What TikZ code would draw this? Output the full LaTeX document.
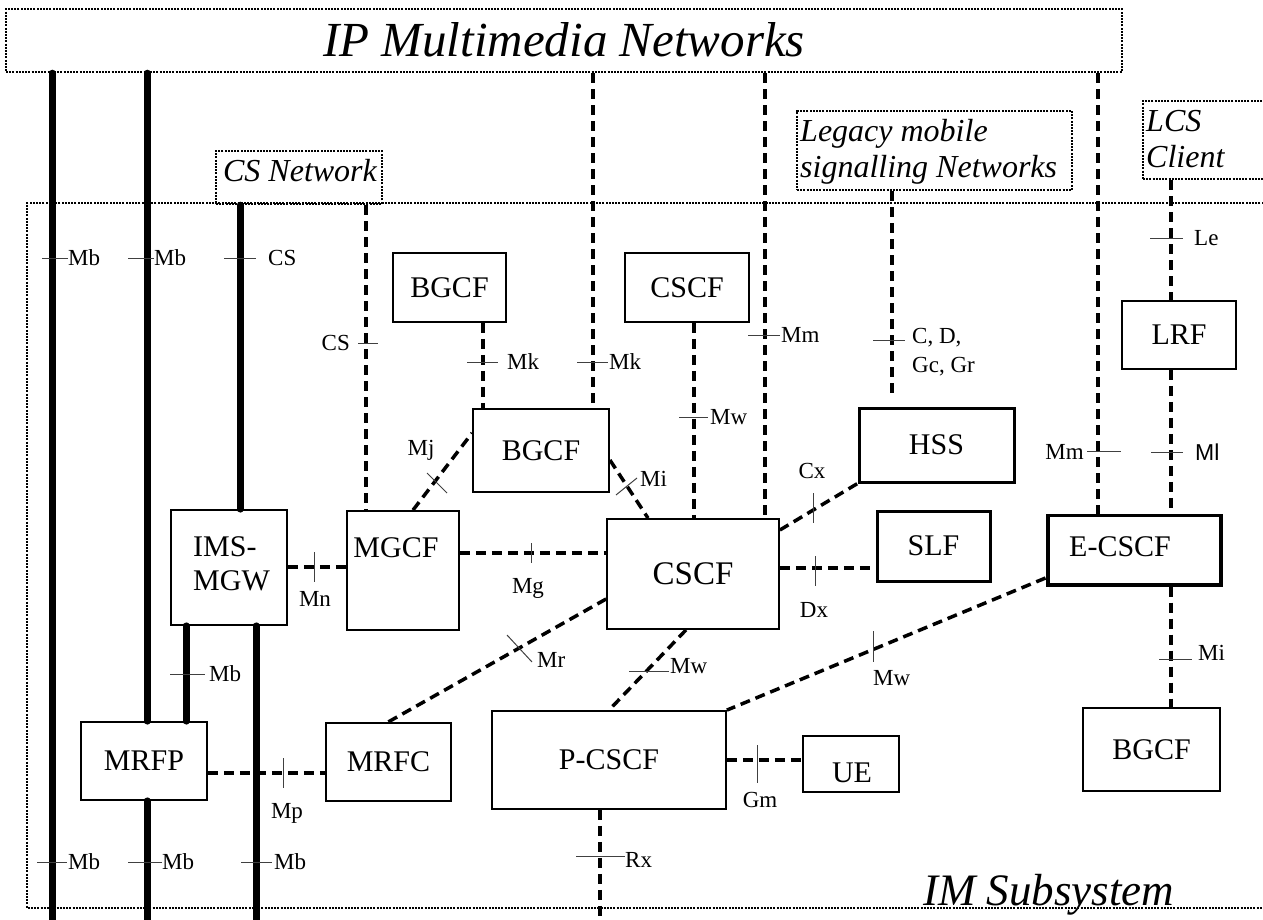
\documentclass[tikz,border=0pt]{standalone}
\usepackage{fontspec}
\setmainfont{Liberation Serif}
\newfontfamily\arialfnt{Liberation Sans}
\newcommand{\bxfnt}{\fontsize{30}{34}\selectfont}
\newcommand{\lbfnt}{\fontsize{23}{26}\selectfont}
\newcommand{\ttlfnt}{\fontsize{32}{36}\selectfont\itshape}
\begin{document}
\begin{tikzpicture}[x=1pt,y=-1pt,
  box/.style={draw, line width=1.8pt, inner sep=0pt, font=\bxfnt},
  thickbox/.style={box, line width=3pt},
  netbox/.style={draw, line width=2.4pt, dash pattern=on 2pt off 1.2pt, inner sep=0pt},
  sig/.style={line width=3.5pt, dash pattern=on 10pt off 6pt},
  bear/.style={line width=7pt, line cap=round},
  tickmark/.style={line width=1pt, black!75},
  lbl/.style={font=\lbfnt, inner sep=0pt},
  ttl/.style={font=\ttlfnt, inner sep=0pt}]
\useasboundingbox (0,0) rectangle (1263,920);
\clip (0,0) rectangle (1263,920);

% IM subsystem boundary
\draw[line width=2.4pt, dash pattern=on 2pt off 1.2pt] (1270,203) -- (27,203) -- (27,908) -- (1270,908);
\node[font=\fontsize{45}{48}\selectfont\itshape, inner sep=0pt, anchor=base west] (imstxt) at (923,905) {IM Subsystem};

% network boxes
\node[netbox, minimum width=1116pt, minimum height=63pt] (ipnet) at (564,40.5) {};
\node[font=\fontsize{49}{52}\selectfont\itshape, inner sep=0pt, anchor=base] (iptxt) at (564,57) {IP Multimedia Networks};
\node[netbox, minimum width=166pt, minimum height=53pt] (csnet) at (299,177.5) {};
\node[ttl, anchor=base] (cstxt) at (300,182) {CS Network};
\node[netbox, fill=white, minimum width=275pt, minimum height=79pt] (legacy) at (934.5,150.5) {};
\node[ttl, anchor=base west] (legtxt1) at (800,142) {Legacy mobile};
\node[ttl, anchor=base west] (legtxt2) at (800,178) {signalling Networks};
\node[netbox, minimum width=147pt, minimum height=78pt] (lcs) at (1216.5,140) {};
\node[ttl, anchor=base west] (lcstxt1) at (1146,132) {LCS};
\node[ttl, anchor=base west] (lcstxt2) at (1146,168) {Client};

% functional boxes
\node[box, minimum width=113pt, minimum height=69pt] (bgcf1) at (449.5,287.5) {BGCF};
\node[box, minimum width=124pt, minimum height=69pt] (cscf1) at (687,287.5) {CSCF};
\node[box, minimum width=136pt, minimum height=83pt] (bgcf2) at (541,450.5) {BGCF};
\node[box, minimum width=112pt, minimum height=119pt] (mgcf) at (403,570.5) {};
\node[font=\bxfnt, inner sep=0pt, anchor=base] (mgcftxt) at (396,557) {MGCF};
\node[box, minimum width=116pt, minimum height=115pt] (imsmgw) at (229,567.5) {};
\node[font=\bxfnt, inner sep=0pt, anchor=base west] (mgwtxt1) at (193,556) {IMS-};
\node[font=\bxfnt, inner sep=0pt, anchor=base west] (mgwtxt2) at (193,590) {MGW};
\node[box, minimum width=172pt, minimum height=110pt, font=\fontsize{33}{36}\selectfont] (cscf2) at (693,574) {CSCF};
\node[thickbox, minimum width=155pt, minimum height=74pt] (hss) at (936.5,445) {HSS};
\node[thickbox, minimum width=113pt, minimum height=70pt] (slf) at (933.5,546) {SLF};
\node[thickbox, minimum width=174pt, minimum height=70pt] (ecscf) at (1134,550) {};
\draw[line width=0.8pt] ([shift={(3.5,3)}]ecscf.north west) rectangle ([shift={(-3.5,-3)}]ecscf.south east);
\node[font=\bxfnt, inner sep=0pt, anchor=base west] (ecscftxt) at (1069,556) {E-CSCF};
\node[box, minimum width=114pt, minimum height=68pt] (lrf) at (1179,335) {LRF};
\node[box, minimum width=126pt, minimum height=78pt] (mrfp) at (144,761) {MRFP};
\node[box, minimum width=125pt, minimum height=78pt] (mrfc) at (388.5,762) {MRFC};
\node[box, minimum width=234pt, minimum height=98pt] (pcscf) at (609,760) {P-CSCF};
\node[box, minimum width=96pt, minimum height=56pt] (ue) at (851,764) {};
\node[font=\bxfnt, inner sep=0pt, anchor=base] (uetxt) at (852,782) {UE};
\node[box, minimum width=137pt, minimum height=83pt] (bgcf3) at (1151.5,749.5) {BGCF};

% free ends
\coordinate (b1end) at (52,930);
\coordinate (b5end) at (256,930);
\coordinate (b6end) at (147,930);
\coordinate (rxend) at (600,930);
\coordinate (cdend) at (892,394);

% bearer (thick) lines
\draw[bear] (52,0 |- ipnet.south) -- (b1end);
\draw[bear] (147,0 |- ipnet.south) -- (147,0 |- mrfp.north);
\draw[bear] (240,0 |- csnet.south) -- (240,0 |- imsmgw.north);
\draw[bear] (186,0 |- imsmgw.south) -- (186,0 |- mrfp.north);
\draw[bear] (256,0 |- imsmgw.south) -- (b5end);
\draw[bear] (147,0 |- mrfp.south) -- (b6end);

% signalling (dashed) lines
\draw[sig] (366,0 |- csnet.south) -- (366,0 |- mgcf.north);
\draw[sig] (483,0 |- bgcf1.south) -- (483,0 |- bgcf2.north);
\draw[sig] (593,0 |- ipnet.south) -- (593,0 |- bgcf2.north);
\draw[sig] (694,0 |- cscf1.south) -- (694,0 |- cscf2.north);
\draw[sig] (765,0 |- ipnet.south) -- (765,0 |- cscf2.north);
\draw[sig] (892,0 |- legacy.south) -- (cdend);
\draw[sig] (1098,0 |- ipnet.south) -- (1098,0 |- ecscf.north);
\draw[sig] (1171,0 |- lcs.south) -- (1171,0 |- lrf.north);
\draw[sig] (1171,0 |- lrf.south) -- (1171,0 |- ecscf.north);
\draw[sig] (1171,0 |- ecscf.south) -- (1171,0 |- bgcf3.north);
\draw[sig] (413,0 |- mgcf.north) -- (bgcf2.west |- 0,433);
\draw[sig] (bgcf2.east |- 0,460) -- (648,0 |- cscf2.north);
\draw[sig] (mgcf.east |- 0,553) -- (cscf2.west |- 0,553);
\draw[sig] (imsmgw.east |- 0,567) -- (mgcf.west |- 0,567);
\draw[sig] (cscf2.east |- 0,530) -- (hss.south west);
\draw[sig] (cscf2.east |- 0,568) -- (slf.west |- 0,568);
\draw[sig] (cscf2.west |- 0,599) -- (388,0 |- mrfc.north);
\draw[sig] (686,0 |- cscf2.south) -- (609,0 |- pcscf.north);
\draw[sig] (ecscf.west |- 0,578) -- (pcscf.north east);
\draw[sig] (pcscf.east |- 0,760) -- (ue.west |- 0,760);
\draw[sig] (mrfp.east |- 0,773) -- (mrfc.west |- 0,773);
\draw[sig] (600,0 |- pcscf.south) -- (rxend);

% ticks
\draw[tickmark] (42,258) -- (68,258);
\draw[tickmark] (128,258) -- (154,258);
\draw[tickmark] (224,258) -- (256,258);
\draw[tickmark] (358,343) -- (378,343);
\draw[tickmark] (467,362) -- (498,362);
\draw[tickmark] (577,362) -- (608,362);
\draw[tickmark] (679,417) -- (708,417);
\draw[tickmark] (748,335) -- (780,335);
\draw[tickmark] (873,340) -- (905,340);
\draw[tickmark] (1150,238) -- (1183,238);
\draw[tickmark] (1087,451) -- (1121,451);
\draw[tickmark] (1151,452) -- (1183,452);
\draw[tickmark] (1159,659) -- (1192,659);
\draw[tickmark] (427,473) -- (447,493);
\draw[tickmark] (616,495) -- (637,478);
\draw[tickmark] (531,543) -- (531,563);
\draw[tickmark] (314,552) -- (314,582);
\draw[tickmark] (813,493) -- (813,523);
\draw[tickmark] (815,556) -- (815,586);
\draw[tickmark] (507,635) -- (532,662);
\draw[tickmark] (629,671) -- (669,671);
\draw[tickmark] (873,631) -- (873,662);
\draw[tickmark] (170,674) -- (205,674);
\draw[tickmark] (283,758) -- (283,788);
\draw[tickmark] (757,745) -- (757,783);
\draw[tickmark] (576,856) -- (625,856);
\draw[tickmark] (37,862) -- (67,862);
\draw[tickmark] (128,862) -- (162,862);
\draw[tickmark] (241,862) -- (272,862);

% labels
\node[lbl, anchor=west] (lmb1) at (68,258) {Mb};
\node[lbl, anchor=west] (lmb2) at (154,258) {Mb};
\node[lbl, anchor=west] (lcs1) at (268,258) {CS};
\node[lbl, anchor=east] (lcs2) at (350,343) {CS};
\node[lbl, anchor=west] (lmk1) at (507,362) {Mk};
\node[lbl, anchor=west] (lmk2) at (609,362) {Mk};
\node[lbl, anchor=west] (lmw1) at (710,417) {Mw};
\node[lbl, anchor=west] (lmm1) at (781,335) {Mm};
\node[lbl, anchor=base west] (lcd1) at (912,343) {C, D,};
\node[lbl, anchor=base west] (lcd2) at (912,372) {Gc, Gr};
\node[lbl, anchor=west] (lle) at (1194,238) {Le};
\node[lbl, anchor=east] (lmm2) at (1084,452) {Mm};
\node[lbl, anchor=west, font=\fontsize{23}{26}\selectfont\arialfnt] (lml) at (1195,452) {Ml};
\node[lbl, anchor=base west] (lmi2) at (1198,660) {Mi};
\node[lbl, anchor=base] (lmj) at (421,455) {Mj};
\node[lbl, anchor=west] (lmi1) at (640,479) {Mi};
\node[lbl, anchor=base] (lmg) at (528,593) {Mg};
\node[lbl, anchor=base] (lmn) at (315,606) {Mn};
\node[lbl, anchor=base] (lcx) at (812,478) {Cx};
\node[lbl, anchor=base] (ldx) at (814,617) {Dx};
\node[lbl, anchor=base west] (lmr) at (537,667) {Mr};
\node[lbl, anchor=base west] (lmw2) at (670,673) {Mw};
\node[lbl, anchor=base west] (lmw3) at (873,685) {Mw};
\node[lbl, anchor=west] (lmb3) at (209,674) {Mb};
\node[lbl, anchor=base] (lmp) at (287,818) {Mp};
\node[lbl, anchor=base] (lgm) at (760,807) {Gm};
\node[lbl, anchor=base west] (lrx) at (625,867) {Rx};
\node[lbl, anchor=west] (lmb4) at (68,862) {Mb};
\node[lbl, anchor=west] (lmb5) at (162,862) {Mb};
\node[lbl, anchor=west] (lmb6) at (274,862) {Mb};
\end{tikzpicture}
\end{document}
